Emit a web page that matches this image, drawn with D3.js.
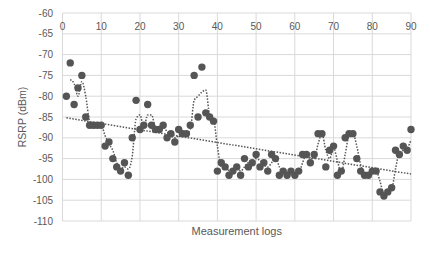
<!DOCTYPE html>
<html>
<head>
<meta charset="utf-8">
<script src="https://cdn.jsdelivr.net/npm/d3@7"></script>
<style>
  body { margin: 0; background: #fff; }
  text { font-family: "Liberation Sans", Arial, sans-serif; fill: #595959; }
</style>
</head>
<body>
<div id="chart"></div>
<script>
// RSRP per measurement log (log number = position, starting at 1)
var rsrp = [-80, -72, -82, -78, -75, -85, -87, -87, -87, -87,
            -92, -91, -95, -97, -98, -96, -99, -90, -81, -88,
            -87, -82, -87, -88, -88, -87, -90, -89, -91, -88,
            -89, -89, -87, -75, -85, -73, -84, -85, -86, -98,
            -96, -97, -99, -98, -97, -99, -95, -97, -96, -94,
            -97, -96, -98, -94, -95, -99, -98, -99, -98, -99,
            -98, -94, -94, -96, -94, -89, -89, -97, -93, -92,
            -99, -98, -90, -89, -89, -95, -98, -99, -99, -98,
            -98, -103, -104, -103, -102, -93, -94, -92, -93, -88];
var xTicks = [0, 10, 20, 30, 40, 50, 60, 70, 80, 90];
var yTicks = [-60, -65, -70, -75, -80, -85, -90, -95, -100, -105, -110];

var data = rsrp.map(function(v, i) { return {x: i + 1, y: v}; });

var width = 430,
    height = 253,
    margin = {top: 13, right: 19, bottom: 32, left: 62.5};

var svg = d3.select("#chart").append("svg")
    .attr("width", width)
    .attr("height", height);

var x = d3.scaleLinear().domain([0, 90]).range([margin.left, width - margin.right]);
var y = d3.scaleLinear().domain([-60, -110]).range([margin.top, height - margin.bottom]);

// gridlines
svg.append("g").selectAll("line.h")
    .data(yTicks).enter().append("line")
    .attr("x1", x(0)).attr("x2", x(90))
    .attr("y1", function(d) { return y(d); })
    .attr("y2", function(d) { return y(d); })
    .attr("stroke", "#d9d9d9").attr("stroke-width", 1);

svg.append("g").selectAll("line.v")
    .data(xTicks).enter().append("line")
    .attr("y1", y(-60)).attr("y2", y(-110))
    .attr("x1", function(d) { return x(d); })
    .attr("x2", function(d) { return x(d); })
    .attr("stroke", "#d9d9d9").attr("stroke-width", 1);

// tick labels
svg.append("g").selectAll("text")
    .data(yTicks).enter().append("text")
    .attr("x", 53).attr("y", function(d) { return y(d); })
    .attr("dy", "0.35em")
    .attr("text-anchor", "end")
    .style("font-size", "10px")
    .text(function(d) { return d; });

svg.append("g").selectAll("text")
    .data(xTicks).enter().append("text")
    .attr("x", function(d) { return x(d); }).attr("y", y(-60) + 13)
    .attr("dy", "0.35em")
    .attr("text-anchor", "middle")
    .style("font-size", "10px")
    .text(function(d) { return d; });

// axis titles
svg.append("text")
    .attr("transform", "translate(22," + (margin.top + height - margin.bottom) / 2 + ") rotate(-90)")
    .attr("dy", "0.35em")
    .attr("text-anchor", "middle")
    .style("font-size", "10.5px")
    .text("RSRP (dBm)");

svg.append("text")
    .attr("x", (x(0) + x(90)) / 2).attr("y", 231)
    .attr("dy", "0.35em")
    .attr("text-anchor", "middle")
    .style("font-size", "11px")
    .text("Measurement logs");

// points
svg.append("g").selectAll("circle")
    .data(data).enter().append("circle")
    .attr("cx", function(d) { return x(d.x); })
    .attr("cy", function(d) { return y(d.y); })
    .attr("r", 3.7)
    .attr("fill", "#555555");

// 2 period moving average
var ma = data.slice(1).map(function(d, i) {
    return {x: d.x, y: (d.y + data[i].y) / 2};
});
var line = d3.line()
    .x(function(d) { return x(d.x); })
    .y(function(d) { return y(d.y); })
    .curve(d3.curveMonotoneX);

svg.append("path")
    .datum(ma)
    .attr("d", line)
    .attr("fill", "none")
    .attr("stroke", "#555555")
    .attr("stroke-width", 1.5)
    .attr("stroke-dasharray", "1.5,1.5");

// linear trendline
var n = data.length,
    mx = d3.mean(data, function(d) { return d.x; }),
    my = d3.mean(data, function(d) { return d.y; });
var slope = d3.sum(data, function(d) { return (d.x - mx) * (d.y - my); }) /
            d3.sum(data, function(d) { return (d.x - mx) * (d.x - mx); });
var icpt = my - slope * mx;
var trend = [1, 90].map(function(v) { return {x: v, y: icpt + slope * v}; });

svg.append("path")
    .datum(trend)
    .attr("d", d3.line().x(function(d) { return x(d.x); }).y(function(d) { return y(d.y); }))
    .attr("fill", "none")
    .attr("stroke", "#555555")
    .attr("stroke-width", 1.5)
    .attr("stroke-dasharray", "1.5,1.5");
</script>
</body>
</html>
